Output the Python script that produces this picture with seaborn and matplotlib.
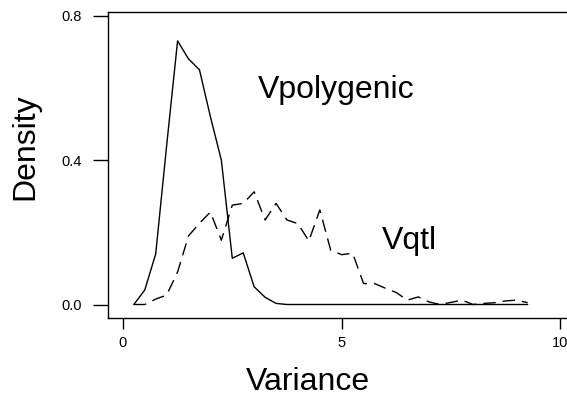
import matplotlib
matplotlib.use("Agg")
import matplotlib.pyplot as plt
import seaborn as sns
import pandas as pd

# values (bin midpoints, step 0.25)
variance = [0.25, 0.5, 0.75, 1.0, 1.25, 1.5, 1.75, 2.0, 2.25, 2.5, 2.75, 3.0,
            3.25, 3.5, 3.75, 4.0, 4.25, 4.5, 4.75, 5.0, 5.25, 5.5, 5.75, 6.0,
            6.25, 6.5, 6.75, 7.0, 7.25, 7.5, 7.75, 8.0, 8.25, 8.5, 8.75, 9.0, 9.25]
vpolygenic = [0.0, 0.04, 0.14, 0.44, 0.73, 0.68, 0.65, 0.52, 0.40, 0.128, 0.143, 0.049,
              0.02, 0.003, 0.0, 0.0, 0.0, 0.0, 0.0, 0.0, 0.0, 0.0, 0.0, 0.0,
              0.0, 0.0, 0.0, 0.0, 0.0, 0.0, 0.0, 0.0, 0.0, 0.0, 0.0, 0.0, 0.0]
vqtl = [0.0, 0.0, 0.015, 0.026, 0.09, 0.19, 0.225, 0.256, 0.178, 0.275, 0.28, 0.312,
        0.234, 0.28, 0.234, 0.224, 0.176, 0.262, 0.15, 0.138, 0.142, 0.058, 0.058, 0.045,
        0.033, 0.012, 0.021, 0.007, 0.0, 0.006, 0.012, 0.0, 0.003, 0.005, 0.01, 0.012, 0.005]

df = pd.DataFrame({'Variance': variance, 'Vpolygenic': vpolygenic, 'Vqtl': vqtl})

sns.set_style("ticks")
plt.rcParams['font.family'] = ['Liberation Sans', 'DejaVu Sans']
plt.rcParams['text.color'] = 'black'

fig = plt.figure(figsize=(5.67, 3.96), dpi=100)
ax = fig.add_axes([108 / 567, 1 - 317.5 / 396, 470 / 567, 305.5 / 396])

sns.lineplot(data=df, x='Variance', y='Vpolygenic', ax=ax, color='black', lw=1.0)
sns.lineplot(data=df, x='Variance', y='Vqtl', ax=ax, color='black', lw=1.0,
             dashes=False, linestyle=(0, (9, 5)))

ax.set_xlim(-0.34, 10.4)
ax.set_ylim(-0.036, 0.81)
ax.set_xticks([0, 5, 10])
ax.set_xticklabels(['0', '5', '10'])
ax.set_yticks([0.0, 0.4, 0.8])
ax.set_yticklabels(['0.0', '0.4', '0.8'])
ax.tick_params(axis='x', length=8, width=1, pad=5, labelsize=10.5, colors='black')
ax.tick_params(axis='y', length=11, width=1, pad=8, labelsize=10.5, colors='black')
for s in ax.spines.values():
    s.set_color('black')
    s.set_linewidth(1.0)
ax.set_xlabel('')
ax.set_ylabel('')

ax.text(3.08, 0.571, 'Vpolygenic', fontsize=23, color='black', ha='left', va='baseline')
ax.text(5.91, 0.155, 'Vqtl', fontsize=23, color='black', ha='left', va='baseline')

fig.text(307.5 / 567, 1 - 390 / 396, 'Variance', fontsize=23, color='black',
         ha='center', va='baseline')
fig.text(25 / 567, 1 - 147 / 396, 'Density', fontsize=23, color='black',
         ha='center', va='center', rotation=90)

fig.savefig('out.png', dpi=100)
